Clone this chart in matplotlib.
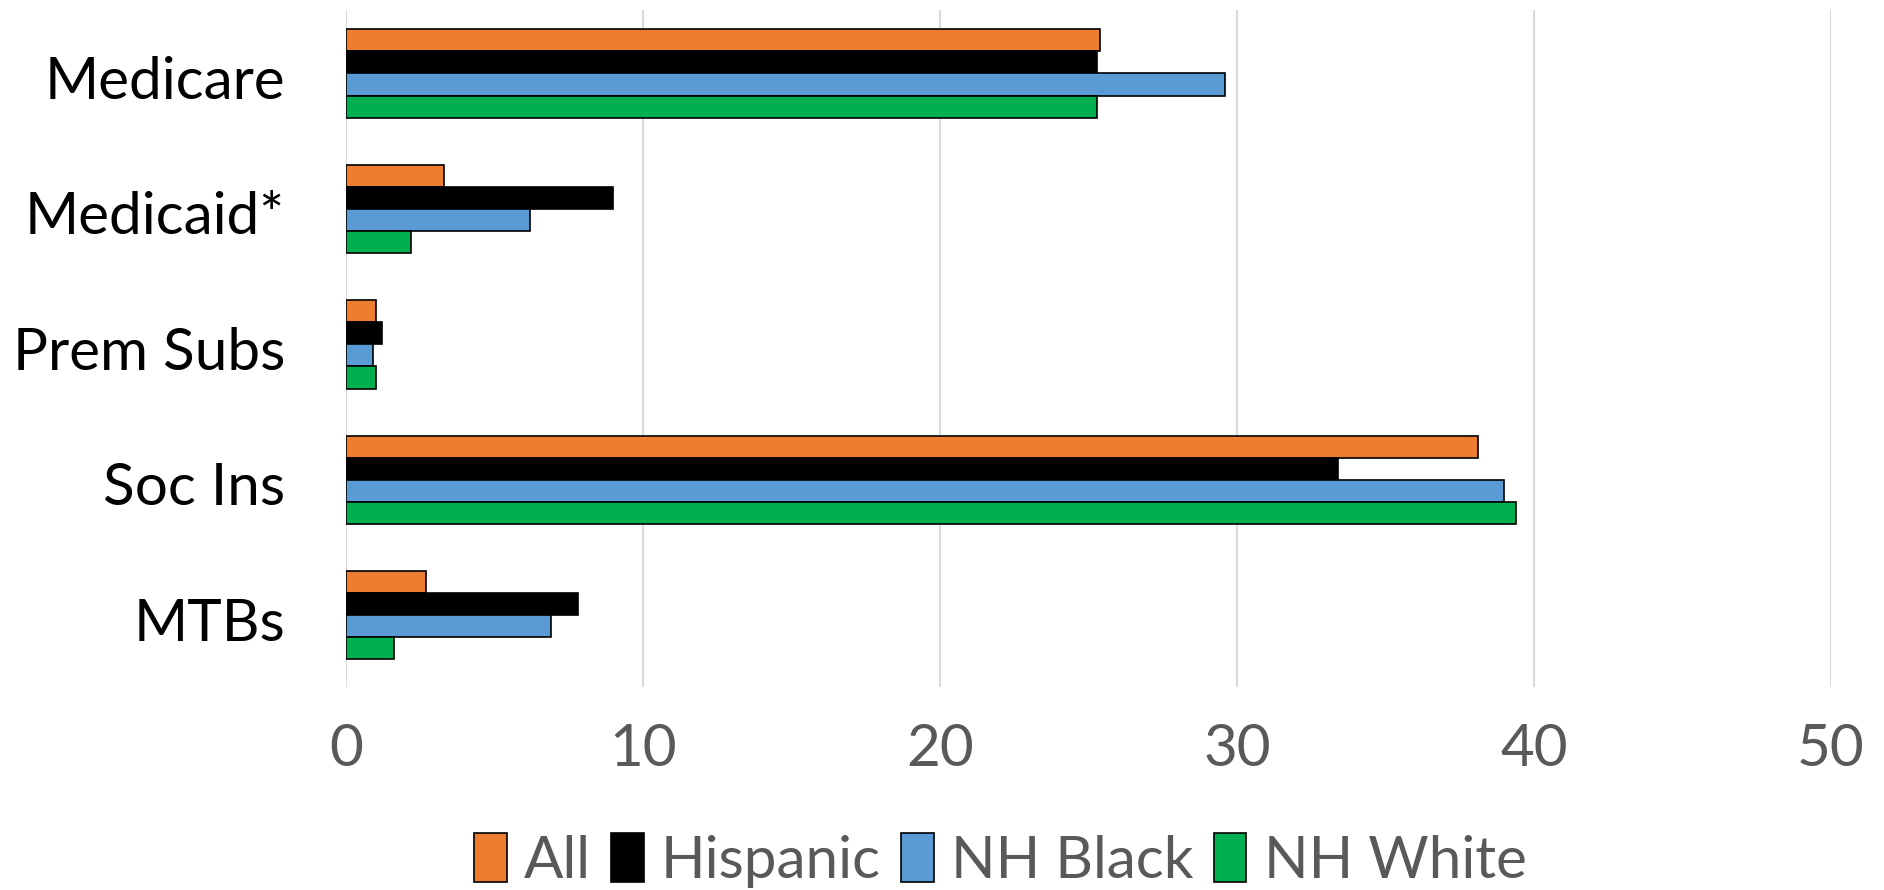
import numpy as np
import matplotlib.pyplot as plt
from matplotlib.patches import Patch

plt.rcParams['font.family'] = ['Lato', 'DejaVu Sans']

categories = ["Medicare", "Medicaid*", "Prem Subs", "Soc Ins", "MTBs"]
series_names = ["All", "Hispanic", "NH Black", "NH White"]
all_vals = [25.4, 3.3, 1.0, 38.1, 2.7]
hispanic_vals = [25.3, 9.0, 1.2, 33.4, 7.8]
nhblack_vals = [29.6, 6.2, 0.9, 39.0, 6.9]
nhwhite_vals = [25.3, 2.2, 1.0, 39.4, 1.6]
colors = ["#ED7D31", "#000000", "#5B9BD5", "#00B050"]
xticks = [0, 10, 20, 30, 40, 50]

fig = plt.figure(figsize=(18.84, 8.9), dpi=100)
ax = fig.add_axes([0.1837, 0.228, 0.7882, 0.761])

y = np.arange(len(categories))
bar_h = 0.163
data = [all_vals, hispanic_vals, nhblack_vals, nhwhite_vals]
for i, vals in enumerate(data):
    ax.barh(y + (i - 1.5) * bar_h - 0.03, vals, height=bar_h, color=colors[i],
            edgecolor="black", linewidth=1.2, zorder=3)

ax.set_xlim(0, 50)
ax.set_ylim(len(categories) - 0.5, -0.5)
ax.set_xticks(xticks)
ax.set_xticklabels([str(t) for t in xticks])
ax.set_yticks(y)
ax.set_yticklabels(categories)
ax.grid(axis="x", color="#d9d9d9", linewidth=1.5, zorder=0)
ax.set_axisbelow(True)
for s in ax.spines.values():
    s.set_visible(False)
ax.tick_params(axis="both", length=0)
ax.tick_params(axis="x", labelsize=42, labelcolor="#595959", pad=26)
ax.tick_params(axis="y", labelsize=42, labelcolor="black", pad=44)

handles = [Patch(facecolor=c, edgecolor="black", linewidth=1.2) for c in colors]
fig.legend(handles, series_names, loc="center", bbox_to_anchor=(0.531, 0.033),
           ncol=4, frameon=False, fontsize=42, labelcolor="#595959",
           handlelength=0.55, handleheight=0.9, handletextpad=0.3, columnspacing=0.35)

fig.savefig("out.png", dpi=100)
